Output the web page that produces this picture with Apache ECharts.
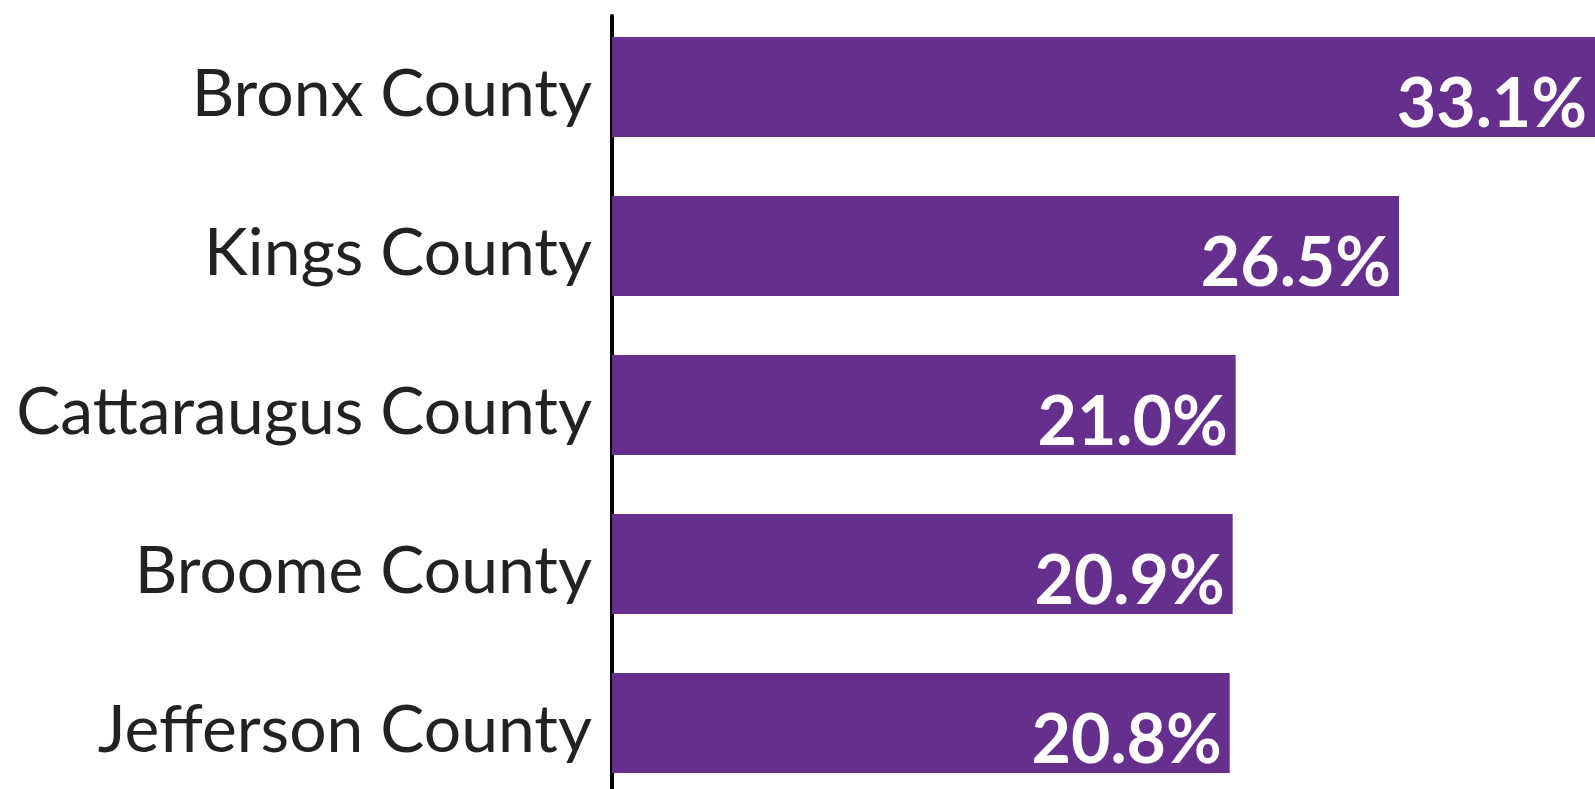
<!DOCTYPE html>
<html>
<head>
<meta charset="utf-8">
<script src="https://cdn.jsdelivr.net/npm/echarts@6/dist/echarts.min.js"></script>
<style>
  html, body { margin: 0; padding: 0; background: #fff; }
  #chart { width: 1595px; height: 789px; }
</style>
</head>
<body>
<div id="chart"></div>
<script>
const counties = ['Bronx County', 'Kings County', 'Cattaraugus County', 'Broome County', 'Jefferson County']
const rates = [33.1, 26.5, 21.0, 20.9, 20.8]

const chart = echarts.init(document.getElementById('chart'))
chart.setOption({
  animation: false,
  grid: [
    // bars: categories sit on the ticks, so the band can run past the page edge
    { left: 612, right: 0, top: 87, bottom: 66 },
    // only carries the vertical baseline
    { left: 612, right: 0, top: 16, bottom: 0 }
  ],
  xAxis: [
    { type: 'value', min: 0, max: 33.1, show: false },
    { type: 'value', gridIndex: 1, show: false }
  ],
  yAxis: [
    {
      type: 'category',
      inverse: true,
      boundaryGap: false,
      data: counties,
      axisLine: { show: false },
      axisTick: { show: false },
      splitLine: { show: false },
      axisLabel: {
        color: '#222',
        fontFamily: 'Lato',
        fontSize: 66,
        margin: 20,
        verticalAlign: 'top',
        lineHeight: 16
      }
    },
    {
      type: 'value',
      gridIndex: 1,
      axisLine: { show: true, lineStyle: { color: '#000', width: 4 } },
      axisTick: { show: false },
      axisLabel: { show: false },
      splitLine: { show: false }
    }
  ],
  series: [
    {
      type: 'bar',
      data: rates,
      barCategoryGap: '37%',
      itemStyle: { color: '#662F8D' },
      label: {
        show: true,
        position: 'insideBottomRight',
        distance: 8,
        offset: [0, 10],
        color: '#fff',
        fontFamily: 'Lato',
        fontWeight: 'bold',
        fontSize: 68,
        formatter: (p) => p.value.toFixed(1) + '%'
      }
    }
  ]
})
</script>
</body>
</html>
